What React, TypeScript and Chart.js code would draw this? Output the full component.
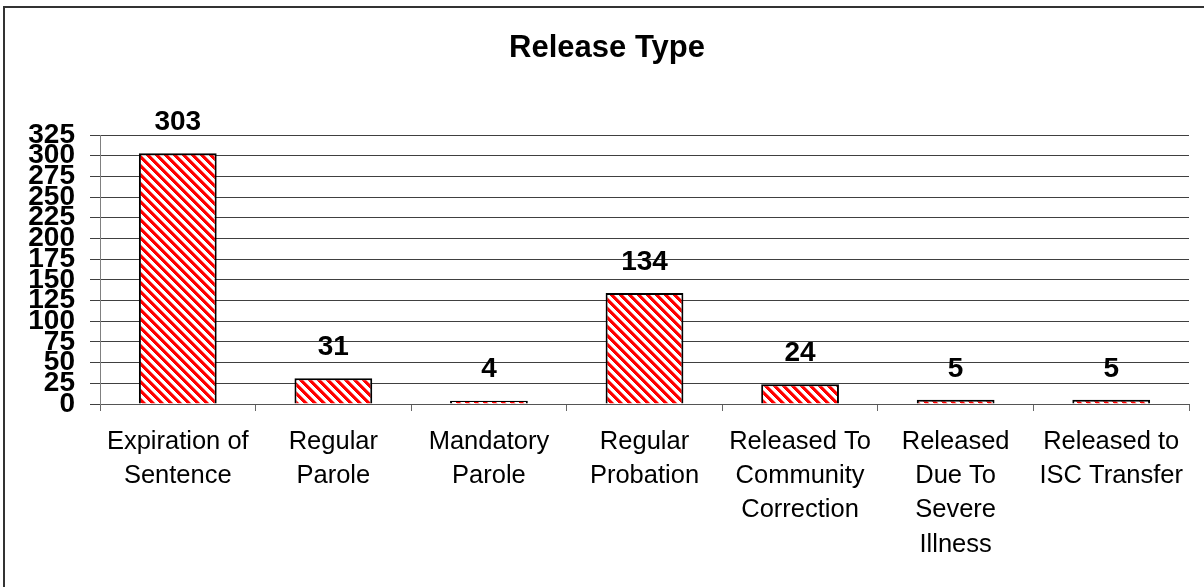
import React, { useEffect, useRef } from "react";
import { Chart, registerables } from "chart.js";

Chart.register(...registerables);

const categories: string[][] = [
  ["Expiration of", "Sentence"],
  ["Regular", "Parole"],
  ["Mandatory", "Parole"],
  ["Regular", "Probation"],
  ["Released To", "Community", "Correction"],
  ["Released", "Due To", "Severe", "Illness"],
  ["Released to", "ISC Transfer"],
];
const releaseCounts: number[] = [303, 31, 4, 134, 24, 5, 5];
const chartTitle = "Release Type";
const yMax = 325;
const yStep = 25;

const FONT = "'Liberation Sans', Arial, Helvetica, sans-serif";

function makePattern(): CanvasPattern | string {
  const c = document.createElement("canvas");
  const n = 9;
  c.width = n;
  c.height = n;
  const ctx = c.getContext("2d");
  if (!ctx) return "#ff0000";
  const img = ctx.createImageData(n, n);
  for (let y = 0; y < n; y++) {
    for (let x = 0; x < n; x++) {
      const i = (y * n + x) * 4;
      const d = (((x - y) % n) + n) % n;
      let g = 255;
      if (d < 4) g = 0;
      else if (d === 4) g = 128;
      img.data[i] = 255;
      img.data[i + 1] = g;
      img.data[i + 2] = g;
      img.data[i + 3] = 255;
    }
  }
  ctx.putImageData(img, 0, 0);
  const p = ctx.createPattern(c, "repeat");
  return p || "#ff0000";
}

const decorPlugin = {
  id: "decor",
  afterDraw(chart: any) {
    const ctx = chart.ctx as CanvasRenderingContext2D;
    ctx.save();
    // frame
    ctx.fillStyle = "#333333";
    ctx.fillRect(3, 6, chart.width - 3, 2);
    ctx.fillRect(3, 6, 2, chart.height - 6);
    // title
    ctx.fillStyle = "#000";
    ctx.font = `bold 31px ${FONT}`;
    ctx.textAlign = "center";
    ctx.textBaseline = "alphabetic";
    ctx.fillText(chartTitle, 607, 57);
    // data labels
    const meta = chart.getDatasetMeta(0);
    ctx.font = `bold 28px ${FONT}`;
    ctx.textBaseline = "middle";
    meta.data.forEach((bar: any, i: number) => {
      ctx.fillText(String(releaseCounts[i]), bar.x, bar.y - 31);
    });
    ctx.restore();
  },
};

export default function App() {
  const ref = useRef<HTMLCanvasElement>(null);
  useEffect(() => {
    if (!ref.current) return;
    const chart = new Chart(ref.current, {
      type: "bar",
      data: {
        labels: categories,
        datasets: [
          {
            data: releaseCounts,
            backgroundColor: makePattern() as any,
            borderColor: "#000000",
            borderWidth: 2,
            barPercentage: 0.5,
            categoryPercentage: 1.0,
          },
        ],
      },
      options: {
        animation: false,
        responsive: false,
        devicePixelRatio: 1,
        layout: { padding: { top: 135, right: 15, left: 0, bottom: 0 } },
        plugins: {
          legend: { display: false },
          title: { display: false },
          tooltip: { enabled: false },
        },
        scales: {
          x: {
            grid: {
              display: true,
              drawOnChartArea: false,
              drawTicks: true,
              tickLength: 7,
              offset: true,
              color: "#666666",
            },
            border: { display: true, color: "#555555", width: 1 },
            ticks: {
              color: "#000",
              font: { family: FONT, size: 25.5, lineHeight: 1.34 },
              padding: 14,
              maxRotation: 0,
              minRotation: 0,
              autoSkip: false,
            },
            afterFit(scale: any) {
              scale.height = 587 - 404;
            },
          },
          y: {
            min: 0,
            max: yMax,
            grid: {
              color: "#404040",
              drawTicks: true,
              tickLength: 10,
            },
            border: { display: true, color: "#808080", width: 1 },
            ticks: {
              stepSize: yStep,
              autoSkip: false,
              color: "#000",
              padding: 15,
              font: { family: FONT, size: 28, weight: "bold" },
            },
            afterFit(scale: any) {
              scale.width = 100;
            },
          },
        },
      },
      plugins: [decorPlugin],
    });
    return () => chart.destroy();
  }, []);
  return (
    <div style={{ position: "absolute", left: 0, top: 0, width: 1204, height: 587 }}>
      <canvas ref={ref} width={1204} height={587} style={{ width: 1204, height: 587 }} />
    </div>
  );
}
